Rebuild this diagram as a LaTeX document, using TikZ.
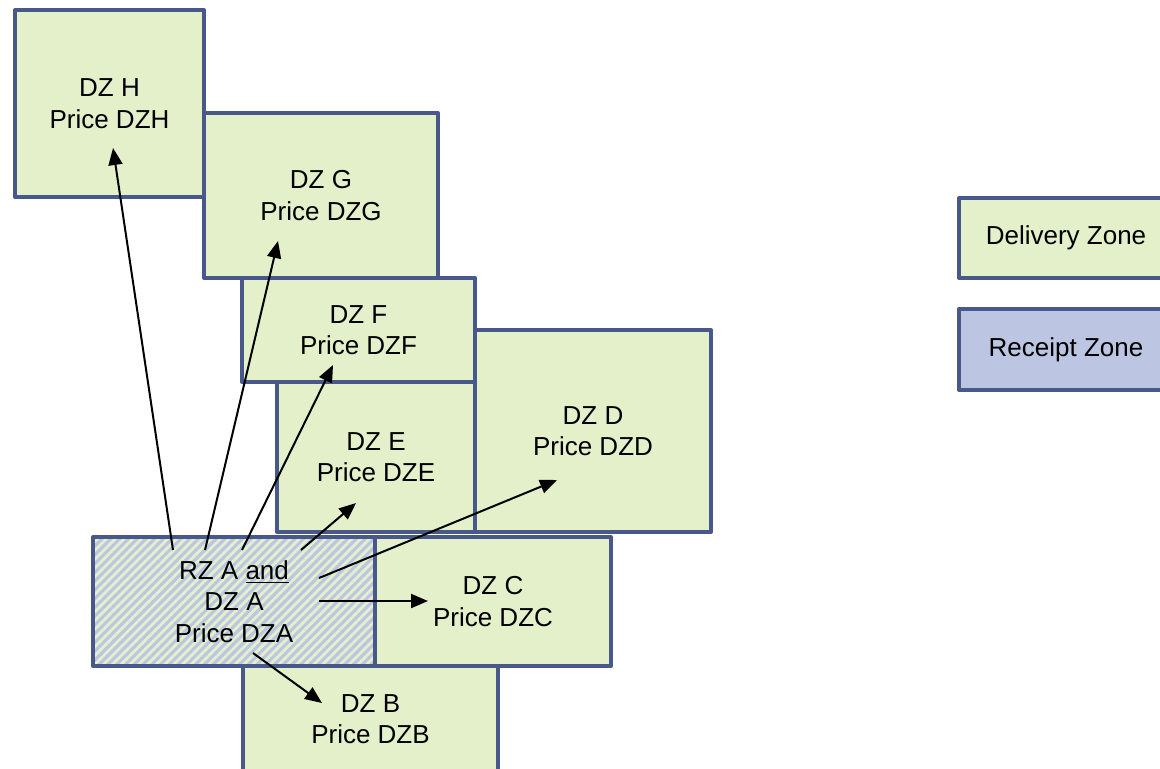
\documentclass[tikz,border=0pt]{standalone}
\usepackage{fontspec}
\setmainfont{Liberation Sans}
\usetikzlibrary{patterns.meta,arrows.meta}
\definecolor{zgreen}{RGB}{228,240,202}
\definecolor{zlav}{RGB}{188,198,226}
\definecolor{zborder}{RGB}{72,88,138}
\tikzset{
  zone/.style={draw=zborder, line width=2pt, line join=round, fill=zgreen,
    align=center, inner sep=0pt, font=\fontsize{13pt}{15.75pt}\selectfont},
  rzone/.style={zone, fill=zlav},
  hzone/.style={zone, fill=none, preaction={fill=zlav},
    pattern={Lines[angle=45,distance=3.1pt,line width=1.4pt]}, pattern color=zgreen},
  sz/.style 2 args={minimum width=#1*0.5pt, minimum height=#2*0.5pt},
  arr/.style={line width=1pt, -{Triangle[length=8.5pt,width=7pt]}}
}
\begin{document}
\begin{tikzpicture}[x=0.5pt,y=-0.5pt]
\useasboundingbox (0,0) rectangle (1160,768);
\clip (0,0) rectangle (1160,768);
\node[zone, sz={189}{187}] (H) at (109.5,103.5) {DZ H\\Price DZH};
\node[zone, sz={234}{165}] (G) at (321,195.5) {DZ G\\Price DZG};
\node[zone, sz={233}{104}] (F) at (358.5,330) {DZ F\\Price DZF};
\node[zone, sz={198}{150}] (E) at (376,457) {DZ E\\Price DZE};
\node[zone, sz={236}{202}] (D) at (593,431) {DZ D\\Price DZD};
\node[zone, sz={236}{129}] (C) at (493,601.5) {DZ C\\Price DZC};
\node[zone, sz={255}{106}] (B) at (370.5,719) {DZ B\\Price DZB};
\node[hzone, sz={282}{129}] (A) at (234,601.5) {RZ A \underline{and}\\DZ A\\Price DZA};
\node[zone, sz={214}{80}] (LD) at (1066,238) {Delivery Zone};
\node[rzone, sz={214}{81}] (LR) at (1066,349.5) {Receipt Zone};
\coordinate (sH) at (173,550); \coordinate (tH) at (113,148);
\coordinate (sG) at (205,550); \coordinate (tG) at (278,241);
\coordinate (sF) at (242,550); \coordinate (tF) at (333,365);
\coordinate (sE) at (301,550); \coordinate (tE) at (356,503);
\coordinate (sD) at (319,578); \coordinate (tD) at (557,480);
\coordinate (sC) at (319,601); \coordinate (tC) at (428,601);
\coordinate (sB) at (253,653); \coordinate (tB) at (322,703);
\draw[arr] (sH) -- (tH);
\draw[arr] (sG) -- (tG);
\draw[arr] (sF) -- (tF);
\draw[arr] (sE) -- (tE);
\draw[arr] (sD) -- (tD);
\draw[arr] (sC) -- (tC);
\draw[arr] (sB) -- (tB);
\end{tikzpicture}
\end{document}
